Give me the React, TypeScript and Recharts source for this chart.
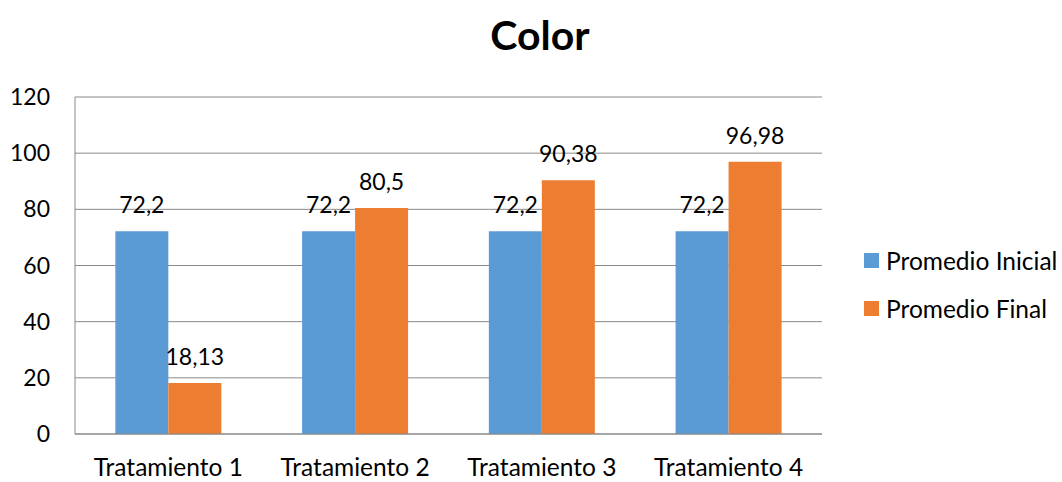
import React from "react";
import { BarChart, Bar, XAxis, YAxis, CartesianGrid, LabelList } from "recharts";

const categories = ["Tratamiento 1", "Tratamiento 2", "Tratamiento 3", "Tratamiento 4"];
const promedioInicial = [72.2, 72.2, 72.2, 72.2];
const promedioFinal = [18.13, 80.5, 90.38, 96.98];
const yTicks = [0, 20, 40, 60, 80, 100, 120];
const seriesNames = ["Promedio Inicial", "Promedio Final"];
const seriesColors = ["#5B9BD5", "#ED7D31"];

const data = categories.map((c, i) => ({
  name: c,
  inicial: promedioInicial[i],
  final: promedioFinal[i],
}));

const FONT = "Lato, 'Noto Sans', sans-serif";
const fmt = (v: any) => String(v).replace(".", ",");

export default function App() {
  return (
    <div style={{ position: "absolute", left: 0, top: 0, width: 1062, height: 482, background: "#fff" }}>
      <svg width={1062} height={80} style={{ position: "absolute", left: 0, top: 0 }}>
        <text x={540} y={50} textAnchor="middle" fontFamily={FONT} fontWeight="bold" fontSize={41} fill="#000">
          Color
        </text>
      </svg>
      <div style={{ position: "absolute", left: 0, top: 0 }}>
        <BarChart
          width={1062}
          height={482}
          data={data}
          margin={{ top: 97, right: 240, bottom: 18, left: 15 }}
          barCategoryGap="21.6%"
          barGap={0}
        >
          <CartesianGrid vertical={false} stroke="#898989" strokeWidth={1} />
          <XAxis
            dataKey="name"
            height={30}
            tickLine={false}
            tickMargin={19}
            axisLine={{ stroke: "#898989" }}
            tick={{ fontFamily: FONT, fontSize: 24.5, fill: "#000" }}
            interval={0}
          />
          <YAxis
            width={60}
            domain={[0, 120]}
            ticks={yTicks}
            tickLine={false}
            tickMargin={19}
            axisLine={{ stroke: "#898989" }}
            tick={{ fontFamily: FONT, fontSize: 23, fill: "#000" }}
            interval={0}
          />
          <Bar dataKey="inicial" name={seriesNames[0]} fill={seriesColors[0]} isAnimationActive={false}>
            <LabelList dataKey="inicial" position="top" offset={18} formatter={fmt} style={{ fontFamily: FONT, fontSize: 23, fill: "#000" }} />
          </Bar>
          <Bar dataKey="final" name={seriesNames[1]} fill={seriesColors[1]} isAnimationActive={false}>
            <LabelList dataKey="final" position="top" offset={18} formatter={fmt} style={{ fontFamily: FONT, fontSize: 23, fill: "#000" }} />
          </Bar>
        </BarChart>
      </div>
      <div style={{ position: "absolute", left: 864, top: 236, fontFamily: FONT, fontSize: 24.5, color: "#000" }}>
        {seriesNames.map((n, i) => (
          <div key={n} style={{ display: "flex", alignItems: "center", height: 48, whiteSpace: "nowrap" }}>
            <span style={{ display: "inline-block", width: 15, height: 15, background: seriesColors[i], marginRight: 7 }} />
            <span>{n}</span>
          </div>
        ))}
      </div>
    </div>
  );
}
